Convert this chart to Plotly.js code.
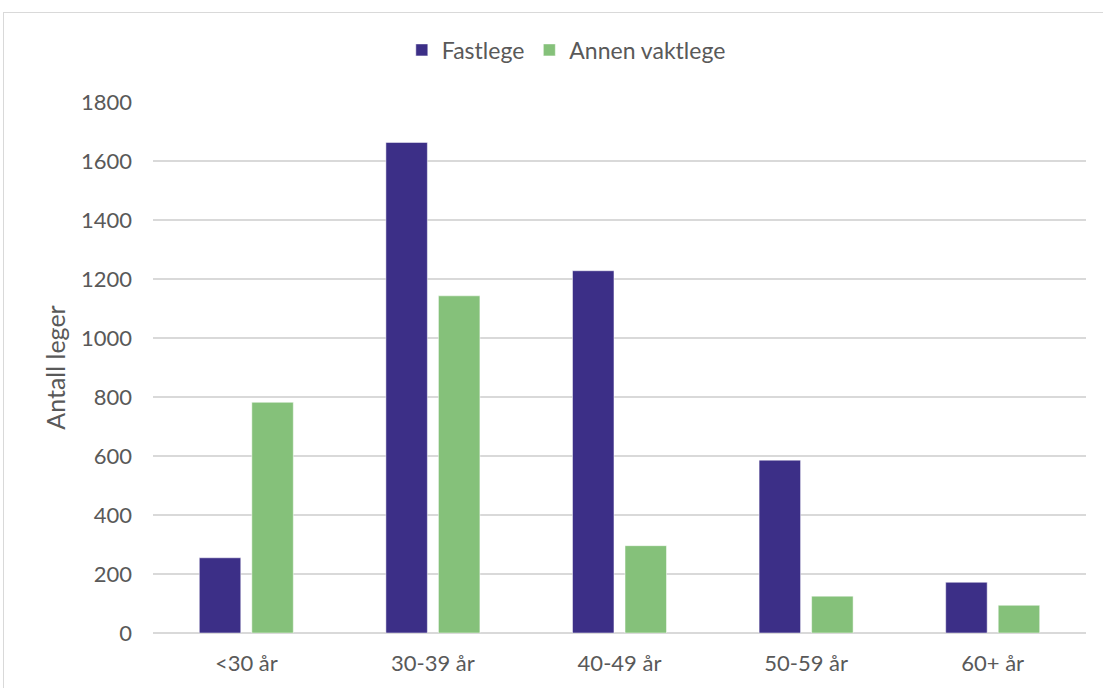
<!DOCTYPE html>
<html>
<head>
<meta charset="utf-8">
<script src="https://cdn.plot.ly/plotly-3.0.1.min.js"></script>
<style>
  html, body { margin: 0; padding: 0; background: #fff; overflow: hidden; }
  #frame { position: absolute; left: 3px; top: 12px; width: 1200px; height: 800px; border: 1px solid #d9d9d9; }
  #plot { position: absolute; left: 0; top: 0; width: 1103px; height: 688px; }
</style>
</head>
<body>
<div id="frame"></div>
<div id="plot"></div>
<script>
const ageGroups = ['<30 år', '30-39 år', '40-49 år', '50-59 år', '60+ år'];
const fastlege = [255, 1663, 1228, 586, 172];
const annenVaktlege = [782, 1143, 296, 125, 94];
const yTicks = [0, 200, 400, 600, 800, 1000, 1200, 1400, 1600, 1800];

const font = 'Lato, "Open Sans", sans-serif';
const grey = '#595959';

const traces = [
  {
    x: ageGroups,
    y: fastlege,
    type: 'bar',
    name: 'Fastlege',
    marker: { color: '#3c2f87', line: { color: '#ffffff', width: 0.5 } },
    hoverinfo: 'x+y+name'
  },
  {
    x: ageGroups,
    y: annenVaktlege,
    type: 'bar',
    name: 'Annen vaktlege',
    marker: { color: '#85c17a', line: { color: '#ffffff', width: 0.5 } },
    hoverinfo: 'x+y+name'
  }
];

const layout = {
  width: 1103,
  height: 688,
  margin: { l: 153, r: 17, t: 102, b: 55 },
  paper_bgcolor: 'rgba(0,0,0,0)',
  plot_bgcolor: 'rgba(0,0,0,0)',
  font: { family: font, size: 22, color: grey },
  barmode: 'group',
  bargap: 0.437,
  bargroupgap: 0.21,
  showlegend: true,
  legend: {
    orientation: 'h',
    x: 0.443, xanchor: 'center',
    y: 1.098, yanchor: 'middle',
    font: { family: font, size: 23, color: grey },
    itemwidth: 30,
    traceorder: 'normal'
  },
  xaxis: {
    type: 'category',
    showgrid: false,
    showline: false,
    ticks: '',
    ticklabelstandoff: 15,
    tickfont: { family: font, size: 22, color: grey },
    zeroline: false
  },
  yaxis: {
    range: [0, 1800],
    tickvals: yTicks,
    ticktext: yTicks.map(String),
    showgrid: true,
    gridcolor: '#d9d9d9',
    gridwidth: 1.5,
    zeroline: true,
    zerolinecolor: '#d9d9d9',
    zerolinewidth: 1.5,
    showline: false,
    ticks: '',
    ticklabelstandoff: 20,
    tickfont: { family: font, size: 22, color: grey },
    title: { text: 'Antall leger', font: { family: font, size: 25, color: grey }, standoff: 8 }
  }
};

Plotly.newPlot('plot', traces, layout, { displayModeBar: false });
</script>
</body>
</html>
